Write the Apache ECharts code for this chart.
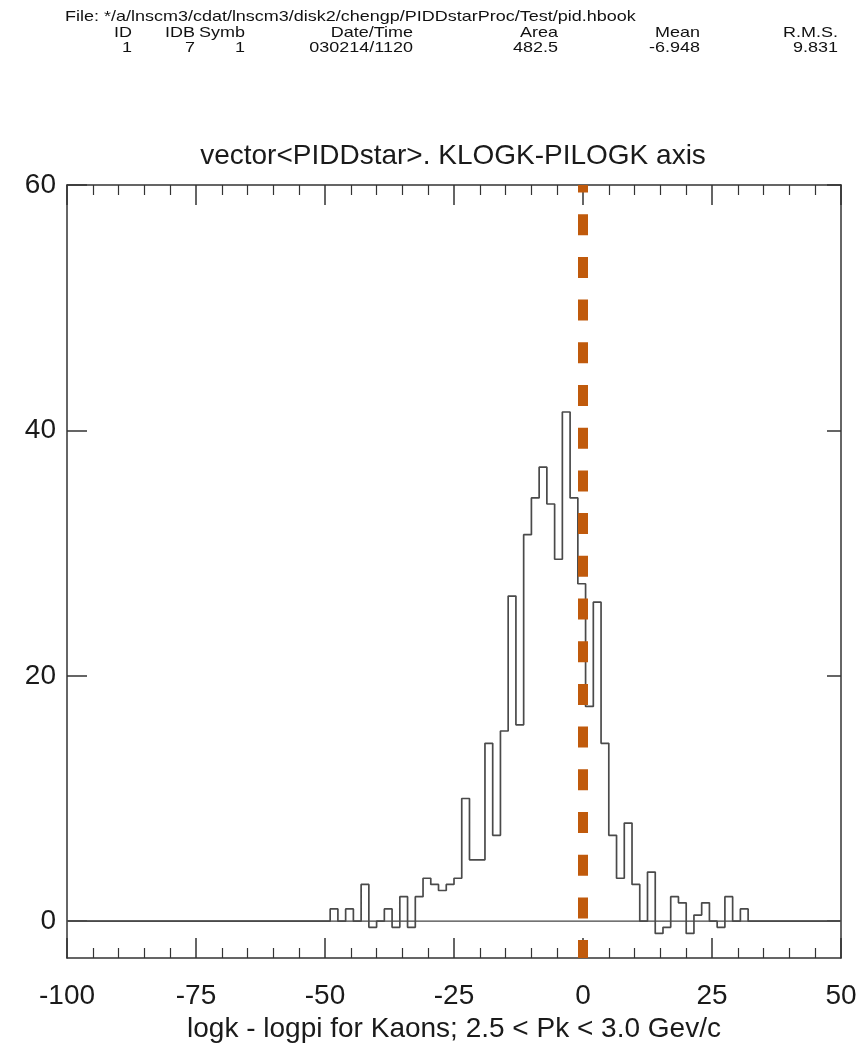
<!DOCTYPE html>
<html>
<head>
<meta charset="utf-8">
<script src="https://cdn.jsdelivr.net/npm/echarts@6/dist/echarts.min.js"></script>
<style>
html,body{margin:0;padding:0;background:#fff;}
#chart{width:863px;height:1043px;}
</style>
</head>
<body>
<div id="chart"></div>
<script>
// ---- data ----
const headerFile = 'File: */a/lnscm3/cdat/lnscm3/disk2/chengp/PIDDstarProc/Test/pid.hbook';
const headerNames = ['ID', 'IDB', 'Symb', 'Date/Time', 'Area', 'Mean', 'R.M.S.'];
const headerValues = ['1', '7', '1', '030214/1120', '482.5', '-6.948', '9.831'];
const titleText = 'vector<PIDDstar>. KLOGK-PILOGK axis';
const xAxisName = 'logk - logpi for Kaons; 2.5 < Pk < 3.0 Gev/c';
const xTicks = [-100, -75, -50, -25, 0, 25, 50];
const yTicks = [0, 20, 40, 60];
const binLow = -100;
const binWidth = 1.5;
const nBins = 100;
const firstFilledBin = 34; // bin starting at -49
const counts = [
  1, 0, 1, 0, 3, -0.5, 0, 1, -0.5, 2,
  -0.5, 2, 3.5, 3, 2.5, 3, 3.5, 10, 5, 5,
  14.5, 7, 15.5, 26.5, 16, 31.5, 34.5, 37, 34, 29.5,
  41.5, 34.5, 27.5, 17.5, 26, 14.5, 7, 3.5, 8, 3,
  0, 4, -1, -0.5, 2, 1.5, -1, 0.5, 1.5, 0,
  -0.5, 2, 0, 1
];
const cutValue = 0;

// ---- build ----
const histData = [];
for (let i = 0; i < nBins; i++) {
  const j = i - firstFilledBin;
  const v = (j >= 0 && j < counts.length) ? counts[j] : 0;
  histData.push([binLow + binWidth * i, v]);
}
histData.push([binLow + binWidth * nBins, 0]);

const xMin = xTicks[0], xMax = xTicks[xTicks.length - 1];
const yMin = -3, yMax = 60;

const headFont = '"Liberation Sans",Arial,sans-serif';
const mainFont = '"Liberation Sans",Arial,Helvetica,sans-serif';
const colRight = [132, 195, 245, 413, 558, 700, 838];
const headSize = 14.5;
const headStretch = 1.24;

const graphics = [];
graphics.push({type:'text', x:65, y:17, scaleX:headStretch, style:{text:headerFile, font:headSize + 'px ' + headFont, fill:'#111', verticalAlign:'middle'}});
headerNames.forEach((t, i) => {
  graphics.push({type:'text', x:colRight[i], y:33, scaleX:headStretch, style:{text:t, font:headSize + 'px ' + headFont, fill:'#111', align:'right', verticalAlign:'middle'}});
});
headerValues.forEach((t, i) => {
  graphics.push({type:'text', x:colRight[i], y:48, scaleX:headStretch, style:{text:t, font:headSize + 'px ' + headFont, fill:'#111', align:'right', verticalAlign:'middle'}});
});
graphics.push({type:'text', x:453, y:156, style:{text:titleText, font:'28px ' + mainFont, fill:'#1a1a1a', align:'center', verticalAlign:'middle'}});

const axisLineStyle = {color:'#333', width:1.5};
const chart = echarts.init(document.getElementById('chart'), null, {renderer:'canvas'});
chart.setOption({
  animation:false,
  backgroundColor:'#fff',
  graphic:graphics,
  grid:{left:67, top:185, width:774, height:773, containLabel:false, outerBoundsMode:'none'},
  xAxis:[{
    type:'value', min:xMin, max:xMax, interval:25, position:'bottom',
    axisLine:{show:true, onZero:false, lineStyle:axisLineStyle},
    axisTick:{show:true, inside:true, length:20, lineStyle:axisLineStyle},
    minorTick:{show:true, splitNumber:5, length:10, lineStyle:{color:'#333', width:1.2}},
    axisLabel:{show:true, margin:24, fontSize:28, fontFamily:mainFont, color:'#1a1a1a'},
    splitLine:{show:false},
    name:xAxisName, nameLocation:'middle', nameGap:56,
    nameTextStyle:{fontSize:28, fontFamily:mainFont, color:'#1a1a1a'}
  },{
    type:'value', min:xMin, max:xMax, interval:25, position:'top',
    axisLine:{show:true, onZero:false, lineStyle:axisLineStyle},
    axisTick:{show:true, inside:true, length:20, lineStyle:axisLineStyle},
    minorTick:{show:true, splitNumber:5, length:10, lineStyle:{color:'#333', width:1.2}},
    axisLabel:{show:false}, splitLine:{show:false}
  }],
  yAxis:[{
    type:'value', min:yMin, max:yMax, position:'left',
    axisLine:{show:true, onZero:false, lineStyle:axisLineStyle},
    axisTick:{show:true, inside:true, length:20, customValues:yTicks, lineStyle:axisLineStyle},
    axisLabel:{show:true, margin:11, fontSize:28, fontFamily:mainFont, color:'#1a1a1a', customValues:yTicks},
    splitLine:{show:false}
  },{
    type:'value', min:yMin, max:yMax, position:'right',
    axisLine:{show:true, onZero:false, lineStyle:axisLineStyle},
    axisTick:{show:true, inside:true, length:14, customValues:yTicks, lineStyle:axisLineStyle},
    axisLabel:{show:false}, splitLine:{show:false}
  }],
  series:[{
    type:'line', xAxisIndex:0, yAxisIndex:0,
    data:[[xMin, 0], [xMax, 0]], symbol:'none', silent:true,
    lineStyle:{color:'#444', width:1.2}
  },{
    type:'line', xAxisIndex:0, yAxisIndex:0,
    data:histData, step:'end', symbol:'none', silent:true,
    lineStyle:{color:'#4a4a4a', width:1.7}
  },{
    type:'line', xAxisIndex:0, yAxisIndex:0,
    data:[[cutValue, yMax], [cutValue, yMin]], symbol:'none', silent:true, clip:false,
    lineStyle:{color:'#c05a0c', width:10, type:[21, 21.7], dashOffset:13.5, cap:'butt'}
  }]
});
</script>
</body>
</html>
